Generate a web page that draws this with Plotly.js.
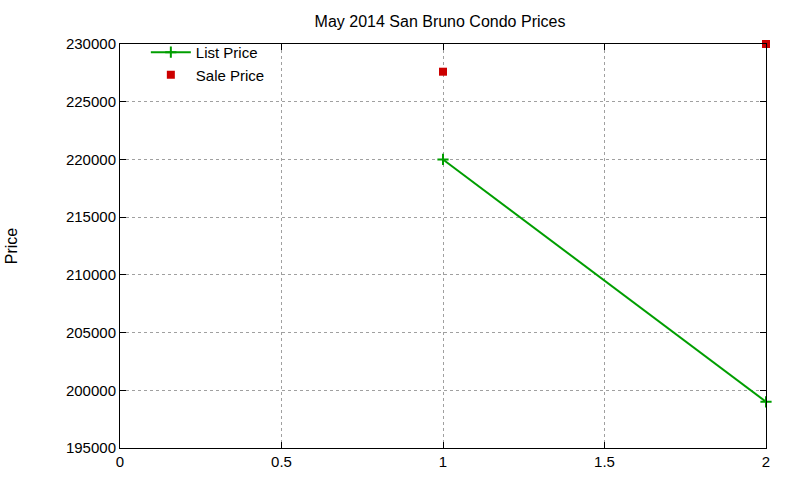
<!DOCTYPE html>
<html>
<head>
<meta charset="utf-8">
<script src="https://cdn.plot.ly/plotly-3.0.1.min.js"></script>
<style>body{margin:0;background:#fff}#chart{width:800px;height:480px}</style>
</head>
<body>
<div id="chart"></div>
<script>
// values
var listX = [1, 2];
var listPrice = [220000, 199000];
var saleX = [1, 2];
var salePrice = [227600, 230000];

var listTrace = {
  x: listX,
  y: listPrice,
  mode: 'lines+markers',
  name: 'List Price',
  line: {color: '#009e00', width: 2},
  marker: {symbol: 'cross-thin', size: 8, line: {color: '#009e00', width: 2}},
  type: 'scatter',
  cliponaxis: false
};

var saleTrace = {
  x: saleX,
  y: salePrice,
  mode: 'markers',
  name: 'Sale Price',
  marker: {symbol: 'square', size: 8, color: '#cc0000'},
  type: 'scatter',
  cliponaxis: false
};

var font = {family: 'Liberation Sans, Arial, sans-serif', size: 15, color: '#000'};

var layout = {
  width: 800,
  height: 480,
  margin: {l: 120, r: 34, t: 44, b: 32},
  paper_bgcolor: '#fff',
  plot_bgcolor: '#fff',
  font: font,
  showlegend: true,
  title: {text: 'May 2014 San Bruno Condo Prices', font: {size: 16}, x: 0.55, xanchor: 'center', y: 0.955, yanchor: 'middle'},
  xaxis: {
    range: [0, 2],
    dtick: 0.5,
    ticks: 'inside',
    ticklen: 6,
    tickcolor: '#000',
    showline: true,
    linecolor: '#000',
    linewidth: 1,
    mirror: 'ticks',
    showgrid: true,
    gridcolor: '#a0a0a0',
    griddash: 'dot',
    zeroline: false,
    tickfont: {size: 15}
  },
  yaxis: {
    range: [195000, 230000],
    dtick: 5000,
    tickformat: 'd',
    ticks: 'inside',
    ticklen: 6,
    tickcolor: '#000',
    showline: true,
    linecolor: '#000',
    linewidth: 1,
    mirror: 'ticks',
    showgrid: true,
    gridcolor: '#a0a0a0',
    griddash: 'dot',
    zeroline: false,
    tickfont: {size: 15},
    title: {text: 'Price', font: {size: 16}, standoff: 44}
  },
  legend: {
    x: 0.04,
    y: 1.02,
    xanchor: 'left',
    yanchor: 'top',
    bgcolor: 'rgba(0,0,0,0)',
    font: {size: 15},
    tracegroupgap: 0,
    itemwidth: 40
  }
};

Plotly.newPlot('chart', [listTrace, saleTrace], layout, {displayModeBar: false, staticPlot: true});
</script>
</body>
</html>
